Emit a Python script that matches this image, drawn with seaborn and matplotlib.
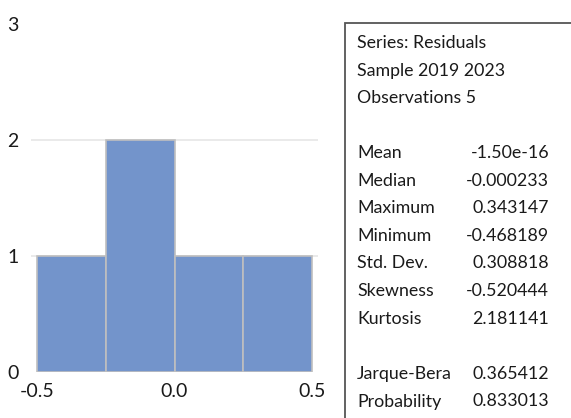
import matplotlib
matplotlib.use("Agg")
import matplotlib.pyplot as plt
import matplotlib.patches as mpatches
import seaborn as sns
import pandas as pd

# Histogram data
bin_edges = [-0.5, -0.25, 0.0, 0.25, 0.5]
bin_centers = [-0.375, -0.125, 0.125, 0.375]
bin_counts = [1, 2, 1, 1]

x_ticks = [-0.5, 0.0, 0.5]
x_tick_labels = ["-0.5", "0.0", "0.5"]
y_ticks = [0, 1, 2, 3]

header_lines = ["Series: Residuals", "Sample 2019 2023", "Observations 5"]
stat_names = ["Mean", "Median", "Maximum", "Minimum", "Std. Dev.", "Skewness", "Kurtosis"]
stat_values = ["-1.50e-16", "-0.000233", "0.343147", "-0.468189", "0.308818", "-0.520444", "2.181141"]
test_names = ["Jarque-Bera", "Probability"]
test_values = ["0.365412", "0.833013"]

sns.set_theme(style="white")
plt.rcParams["font.family"] = ["Lato", "DejaVu Sans"]

W, H = 571, 418
fig = plt.figure(figsize=(W / 100, H / 100), dpi=100)
ax = fig.add_axes([31 / W, (H - 372) / H, 287 / W, 348 / H])

df = pd.DataFrame({"x": bin_centers, "w": bin_counts})
sns.histplot(data=df, x="x", weights="w", bins=bin_edges, ax=ax,
             color="#7394CB", alpha=1.0, edgecolor="#BFBFBF", linewidth=1.2)

ax.set_xlim(-0.522, 0.522)
ax.set_ylim(0, 3)
ax.set_xticks(x_ticks)
ax.set_xticklabels(x_tick_labels)
ax.set_yticks(y_ticks)
ax.set_xlabel("")
ax.set_ylabel("")
ax.tick_params(axis="both", length=0, labelsize=14, colors="#1a1a1a")
ax.tick_params(axis="y", pad=9)
ax.tick_params(axis="x", pad=8)
for s in ax.spines.values():
    s.set_visible(False)
ax.set_axisbelow(True)
ax.yaxis.grid(True, color="#E6E6E6", linewidth=1.2)
gl = ax.yaxis.get_gridlines()
gl[0].set_visible(False)
gl[-1].set_visible(False)

# Stats box
rect = mpatches.Rectangle((345 / W, -0.1), 0.5, (H - 23) / H + 0.1,
                          transform=fig.transFigure, fill=False,
                          edgecolor="#555555", linewidth=1.3, clip_on=False)
fig.add_artist(rect)

fs = 12.8
x_name = 357 / W
x_val = 549 / W
ys = [43, 71, 98]
for t, y in zip(header_lines, ys):
    fig.text(x_name, 1 - y / H, t, fontsize=fs, va="center", ha="left", color="#1a1a1a")
y0 = 153
for i, (n, v) in enumerate(zip(stat_names, stat_values)):
    y = y0 + i * 27.6
    fig.text(x_name, 1 - y / H, n, fontsize=fs, va="center", ha="left", color="#1a1a1a")
    fig.text(x_val, 1 - y / H, v, fontsize=fs, va="center", ha="right", color="#1a1a1a")
for i, (n, v) in enumerate(zip(test_names, test_values)):
    y = 374 + i * 27.5
    fig.text(x_name, 1 - y / H, n, fontsize=fs, va="center", ha="left", color="#1a1a1a")
    fig.text(x_val, 1 - y / H, v, fontsize=fs, va="center", ha="right", color="#1a1a1a")

fig.savefig("out.png", dpi=100)
